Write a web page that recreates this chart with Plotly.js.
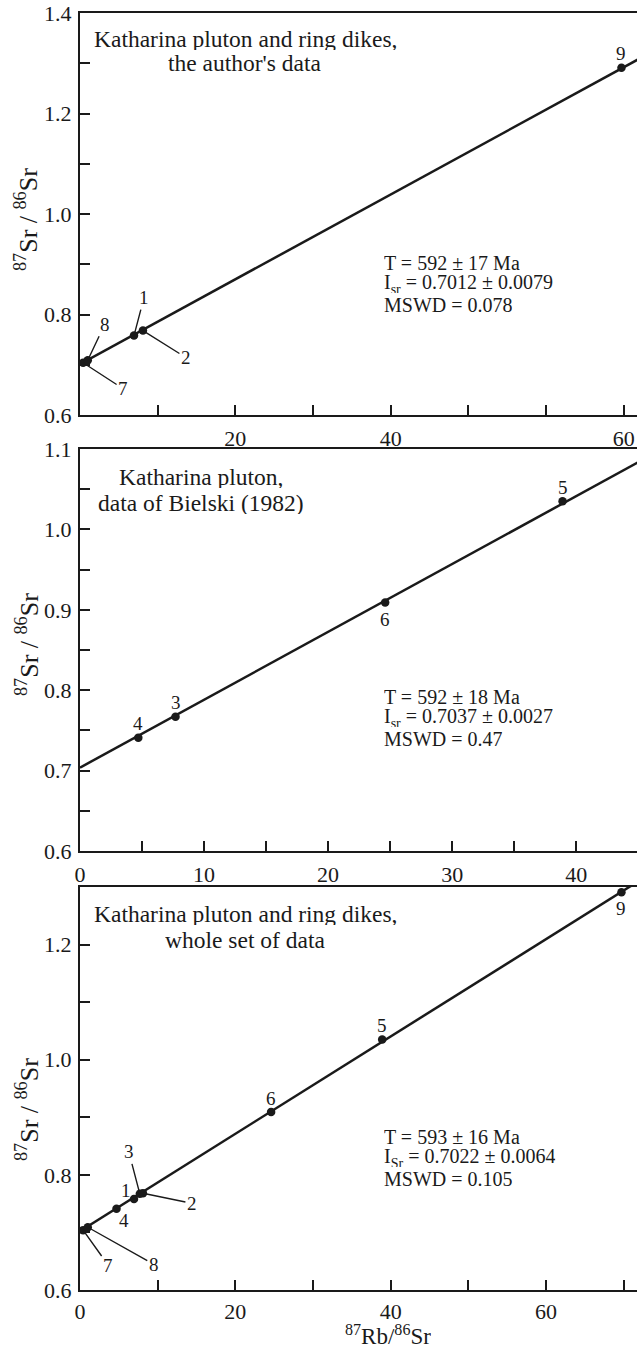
<!DOCTYPE html>
<html>
<head>
<meta charset="utf-8">
<script src="https://cdn.plot.ly/plotly-3.0.1.min.js"></script>
<style>html,body{margin:0;padding:0;background:#fff;}#chart{width:637px;height:1349px;}</style>
</head>
<body>
<div id="chart"></div>
<script>
// ---- data ----
const sampleNo = ['1', '2', '3', '4', '5', '6', '7', '8', '9'];
const rbSr = [6.95, 8.1, 7.7, 4.7, 38.9, 24.6, 0.4, 1.0, 69.7];     // 87Rb/86Sr
const srSr = [0.758, 0.768, 0.767, 0.741, 1.035, 0.909, 0.704, 0.709, 1.291]; // 87Sr/86Sr

const panelA = ['1', '2', '7', '8', '9'];           // author's data
const panelB = ['3', '4', '5', '6'];                // Bielski (1982)
const panelC = ['1', '2', '3', '4', '5', '6', '7', '8', '9']; // whole set

const panelTitle1 = ['Katharina pluton and ring dikes,', 'Katharina pluton,', 'Katharina pluton and ring dikes,'];
const panelTitle2 = ["the author's data", 'data of Bielski (1982)', 'whole set of data'];
const ageMa = [592, 592, 593];
const ageErr = [17, 18, 16];
const initSr = [0.7012, 0.7037, 0.7022];
const initSrErr = [0.0079, 0.0027, 0.0064];
const initLabel = ['I<sub>sr</sub>', 'I<sub>sr</sub>', 'I<sub>Sr</sub>'];
const mswd = ['0.078', '0.47', '0.105'];
const lambdaRb = 1.42e-11;

// tick labels
const xTickVals = [[10, 20, 30, 40, 50, 60, 70], [0, 5, 10, 15, 20, 25, 30, 35, 40], [0, 10, 20, 30, 40, 50, 60, 70]];
const xTickText = [['', '20', '', '40', '', '', '60'], ['0', '', '10', '', '20', '', '30', '', '40'], ['0', '', '20', '', '40', '', '60', '']];
const yTickVals = [[0.6, 0.7, 0.8, 0.9, 1.0, 1.1, 1.2, 1.3, 1.4], [0.6, 0.65, 0.7, 0.75, 0.8, 0.85, 0.9, 0.95, 1.0, 1.05, 1.1], [0.6, 0.7, 0.8, 0.9, 1.0, 1.1, 1.2]];
const yTickText = [['0.6', '', '0.8', '', '1.0', '', '1.2', '', '1.4'], ['0.6', '', '0.7', '', '0.8', '', '0.9', '', '1.0', '', '1.1'], ['0.6', '', '0.8', '', '1.0', '', '1.2']];

// ---- layout geometry (pixels) ----
const W = 637, H = 1349;
const panelsPx = [[13, 415], [449, 851], [887, 1290]];
const xRanges = [[0, 71.7], [0, 44.9], [0, 71.7]];
const yRanges = [[0.6, 1.4], [0.6, 1.1], [0.6, 1.3]];
const FONT = 'Liberation Serif, Times New Roman, serif';
const INK = '#1a1a1a';
const px = v => v / W;
const py = v => 1 - v / H;

const members = [panelA, panelB, panelC];
const traces = [];
const annotations = [];

members.forEach((ids, p) => {
  const xa = p === 0 ? 'x' : 'x' + (p + 1);
  const ya = p === 0 ? 'y' : 'y' + (p + 1);
  const idx = ids.map(id => sampleNo.indexOf(id));
  const slope = Math.exp(lambdaRb * ageMa[p] * 1e6) - 1;
  const x0 = xRanges[p][0], x1 = xRanges[p][1] + 1;
  traces.push({
    x: [x0, x1], y: [initSr[p] + slope * x0, initSr[p] + slope * x1],
    xaxis: xa, yaxis: ya, mode: 'lines', line: {color: INK, width: 2.5},
    hoverinfo: 'skip', showlegend: false
  });
  traces.push({
    x: idx.map(i => rbSr[i]), y: idx.map(i => srSr[i]), text: ids,
    xaxis: xa, yaxis: ya, mode: 'markers', cliponaxis: false,
    marker: {color: INK, size: 8.5}, showlegend: false
  });
});

// point labels (offsets in px)
const labelStyle = [
  // panel 1
  [{id: '9', dy: 14}, {id: '1', ax: 10, ay: -38}, {id: '8', ax: 17, ay: -36}, {id: '2', ax: 43, ay: 27}, {id: '7', ax: 40, ay: 26}],
  // panel 2
  [{id: '4', dy: 14}, {id: '3', dy: 14}, {id: '6', dy: -17}, {id: '5', dy: 14}],
  // panel 3
  [{id: '9', dy: -16}, {id: '5', dy: 14}, {id: '6', dy: 14}, {id: '3', ax: -11, ay: -42}, {id: '1', dx: -8, dy: 9},
   {id: '2', ax: 49, ay: 10}, {id: '4', dx: 7, dy: -12}, {id: '7', ax: 25, ay: 35}, {id: '8', ax: 66, ay: 37}]
];
labelStyle.forEach((list, p) => {
  const xa = p === 0 ? 'x' : 'x' + (p + 1);
  const ya = p === 0 ? 'y' : 'y' + (p + 1);
  list.forEach(s => {
    const i = sampleNo.indexOf(s.id);
    const a = {x: rbSr[i], y: srSr[i], xref: xa, yref: ya, text: s.id,
      font: {family: FONT, size: 19, color: INK}};
    if (s.ax !== undefined) {
      Object.assign(a, {showarrow: true, arrowhead: 0, arrowwidth: 1.4, arrowcolor: INK,
        ax: s.ax, ay: s.ay, standoff: 0, startstandoff: 0});
    } else {
      Object.assign(a, {showarrow: false, xshift: s.dx || 0, yshift: s.dy || 0});
    }
    annotations.push(a);
  });
});

// panel titles, stats, axis titles
const titleCx = [245, 201, 245];
const titleY = [[39, 63], [477, 503], [914, 940]];
const statY = [[263, 284, 305], [697, 718, 739], [1137, 1158, 1179]];
const yTitleCy = [220, 645, 1110];
for (let p = 0; p < 3; p++) {
  annotations.push({xref: 'paper', yref: 'paper', x: px(titleCx[p]), y: py(titleY[p][0]), text: panelTitle1[p],
    showarrow: false, xanchor: 'center', yanchor: 'middle', height: 22, borderpad: 0,
    font: {family: FONT, size: 23.5, color: INK}});
  annotations.push({xref: 'paper', yref: 'paper', x: px(titleCx[p]), y: py(titleY[p][1]), text: panelTitle2[p],
    showarrow: false, xanchor: 'center', yanchor: 'middle', height: 22, borderpad: 0,
    font: {family: FONT, size: 23.5, color: INK}});
  const lines = ['T = ' + ageMa[p] + ' ± ' + ageErr[p] + ' Ma',
    initLabel[p] + ' = ' + initSr[p].toFixed(4) + ' ± ' + initSrErr[p].toFixed(4),
    'MSWD = ' + mswd[p]];
  lines.forEach((t, k) => annotations.push({xref: 'paper', yref: 'paper', x: px(383), y: py(statY[p][k]), text: t,
    showarrow: false, xanchor: 'left', yanchor: 'middle', height: 18, borderpad: 0,
    font: {family: FONT, size: 20, color: INK}}));
  annotations.push({xref: 'paper', yref: 'paper', x: px(27), y: py(yTitleCy[p]),
    text: '<sup>87</sup>Sr / <sup>86</sup>Sr', textangle: -90, showarrow: false,
    xanchor: 'center', yanchor: 'middle', font: {family: FONT, size: 26, color: INK}});
}
annotations.push({xref: 'paper', yref: 'paper', x: px(388), y: py(1335), text: '<sup>87</sup>Rb/<sup>86</sup>Sr',
  showarrow: false, xanchor: 'center', yanchor: 'middle', height: 24, borderpad: 0,
  font: {family: FONT, size: 23, color: INK}});

const layout = {
  width: W, height: H, margin: {l: 0, r: 0, t: 0, b: 0},
  paper_bgcolor: '#fff', plot_bgcolor: '#fff', showlegend: false,
  font: {family: FONT, color: INK},
  annotations: annotations
};
for (let p = 0; p < 3; p++) {
  const sx = p === 0 ? '' : String(p + 1);
  layout['xaxis' + sx] = {
    domain: [px(80), 1], anchor: 'y' + sx, range: xRanges[p],
    tickmode: 'array', tickvals: xTickVals[p], ticktext: xTickText[p],
    ticks: 'inside', ticklen: 10, tickwidth: 2, tickcolor: INK,
    showline: true, linecolor: INK, linewidth: 2, mirror: true,
    showgrid: false, zeroline: false, ticklabelstandoff: p === 2 ? 1 : 3,
    tickfont: {family: FONT, size: 22, color: INK}
  };
  layout['yaxis' + sx] = {
    domain: [py(panelsPx[p][1]), py(panelsPx[p][0])], anchor: 'x' + sx, range: yRanges[p],
    tickmode: 'array', tickvals: yTickVals[p], ticktext: yTickText[p],
    ticks: 'inside', ticklen: 10, tickwidth: 2, tickcolor: INK,
    showline: true, linecolor: INK, linewidth: 2,
    showgrid: false, zeroline: false, ticklabelstandoff: 2,
    tickfont: {family: FONT, size: 22, color: INK}
  };
}
Plotly.newPlot('chart', traces, layout, {staticPlot: true});
</script>
</body>
</html>
